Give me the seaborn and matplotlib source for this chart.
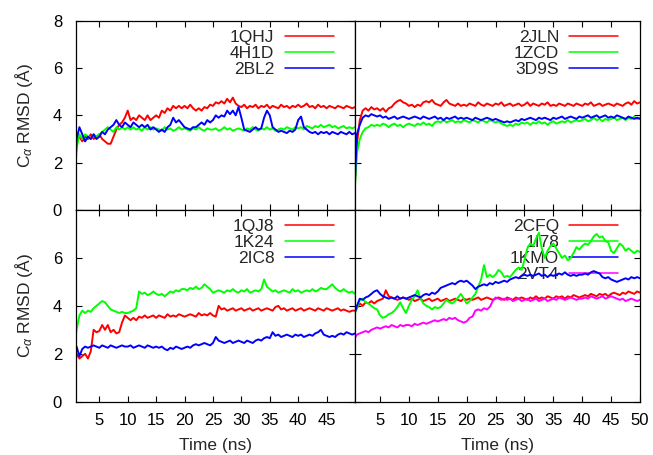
import numpy as np
import pandas as pd
import matplotlib
matplotlib.use("Agg")
import matplotlib.pyplot as plt
import seaborn as sns

# ---------------- data ----------------
time_ns = np.arange(0, 50.5, 0.5)

# top-left panel
s_1QHJ = [0.0, 0.0, 2.9, 3.1, 2.9, 3.1, 3.0, 3.2, 3.0, 3.1,
          3.2, 3.0, 2.9, 2.8, 2.8, 3.1, 3.4, 3.6, 3.7, 3.9,
          4.2, 3.8, 3.9, 3.8, 4.0, 3.9, 3.8, 4.0, 3.8, 3.9,
          4.0, 3.9, 4.2, 4.1, 4.3, 4.2, 4.4, 4.3, 4.4, 4.3,
          4.4, 4.3, 4.45, 4.3, 4.2, 4.3, 4.2, 4.35, 4.3, 4.45,
          4.4, 4.55, 4.5, 4.6, 4.5, 4.7, 4.55, 4.75, 4.5, 4.4,
          4.35, 4.45, 4.3, 4.4, 4.35, 4.45, 4.3, 4.4, 4.35, 4.45,
          4.3, 4.4, 4.35, 4.3, 4.45, 4.35, 4.4, 4.3, 4.4, 4.35,
          4.45, 4.35, 4.4, 4.5, 4.35, 4.4, 4.3, 4.45, 4.35, 4.4,
          4.3, 4.4, 4.35, 4.3, 4.4, 4.35, 4.3, 4.4, 4.35, 4.3,
          4.35]
s_4H1D = [0.0, 0.0, 2.6, 3.2, 3.0, 3.2, 3.1, 3.0, 3.2, 3.1,
          3.2, 3.3, 3.4, 3.5, 3.4, 3.3, 3.5, 3.4, 3.5, 3.4,
          3.5, 3.4, 3.5, 3.4, 3.45, 3.35, 3.5, 3.4, 3.5, 3.4,
          3.45, 3.4, 3.35, 3.5, 3.4, 3.45, 3.35, 3.4, 3.5, 3.4,
          3.45, 3.4, 3.35, 3.45, 3.4, 3.5, 3.4, 3.35, 3.45, 3.4,
          3.4, 3.45, 3.35, 3.4, 3.5, 3.4, 3.45, 3.35, 3.4, 3.45,
          3.4, 3.35, 3.45, 3.4, 3.5, 3.4, 3.35, 3.45, 3.4, 3.5,
          3.4, 3.45, 3.35, 3.4, 3.45, 3.4, 3.5, 3.45, 3.4, 3.5,
          3.45, 3.5, 3.4, 3.55, 3.5, 3.45, 3.55, 3.5, 3.6, 3.5,
          3.55, 3.6, 3.5, 3.55, 3.45, 3.5, 3.55, 3.45, 3.5, 3.45,
          3.5]
s_2BL2 = [0.0, 0.0, 3.0, 3.5, 3.2, 2.9, 3.1, 3.0, 3.2, 3.0,
          3.1, 3.3, 3.2, 3.4, 3.5, 3.6, 3.8, 3.6, 3.5, 3.7,
          3.6, 3.5, 3.7, 3.6, 3.5, 3.6, 3.5, 3.6, 3.4, 3.5,
          3.4, 3.3, 3.4, 3.3, 3.5, 3.6, 3.9, 3.7, 3.8, 3.65,
          3.5, 3.45, 3.4, 3.5, 3.5, 3.6, 3.7, 3.6, 3.8, 3.7,
          3.8, 4.0, 3.9, 4.0, 3.95, 4.2, 4.05, 4.2, 4.0, 4.35,
          3.9, 3.4, 3.35, 3.3, 3.4, 3.5, 3.4, 3.45, 3.9, 4.2,
          4.0, 3.5, 3.4, 3.3, 3.35, 3.3, 3.25, 3.35, 3.3, 3.4,
          3.8, 3.95, 3.5, 3.4, 3.3, 3.25, 3.3, 3.2, 3.3, 3.25,
          3.3, 3.2, 3.3, 3.25, 3.2, 3.3, 3.25, 3.2, 3.3, 3.2,
          3.25]

# top-right panel
s_2JLN = [0.0, 0.3, 2.8, 3.8, 4.2, 4.3, 4.2, 4.35, 4.25, 4.3,
          4.2, 4.3, 4.15, 4.3, 4.35, 4.5, 4.6, 4.65, 4.55, 4.5,
          4.4, 4.45, 4.35, 4.45, 4.4, 4.55, 4.6, 4.55, 4.65, 4.5,
          4.45, 4.4, 4.55, 4.65, 4.5, 4.45, 4.4, 4.5, 4.4, 4.45,
          4.4, 4.5, 4.45, 4.4, 4.55, 4.45, 4.4, 4.5, 4.45, 4.4,
          4.5, 4.45, 4.55, 4.4, 4.45, 4.5, 4.4, 4.45, 4.5, 4.4,
          4.45, 4.55, 4.4, 4.5, 4.45, 4.4, 4.5, 4.45, 4.55, 4.4,
          4.45, 4.4, 4.5, 4.45, 4.4, 4.5, 4.45, 4.4, 4.5, 4.45,
          4.4, 4.5, 4.45, 4.55, 4.4, 4.45, 4.5, 4.4, 4.45, 4.5,
          4.45, 4.4, 4.5, 4.45, 4.4, 4.5, 4.55, 4.45, 4.6, 4.5,
          4.55]
s_1ZCD = [0.0, 0.3, 2.4, 3.0, 3.3, 3.45, 3.5, 3.6, 3.55, 3.6,
          3.55, 3.65, 3.6, 3.5, 3.6, 3.65, 3.55, 3.6, 3.5, 3.6,
          3.65, 3.6, 3.55, 3.65, 3.6, 3.7, 3.6, 3.65, 3.55, 3.7,
          3.75, 3.7, 3.8, 3.7, 3.75, 3.8, 3.7, 3.75, 3.7, 3.8,
          3.75, 3.7, 3.8, 3.75, 3.7, 3.8, 3.75, 3.7, 3.8, 3.75,
          3.7, 3.75, 3.65, 3.6, 3.55, 3.6, 3.55, 3.65, 3.6, 3.7,
          3.65, 3.7, 3.6, 3.7, 3.65, 3.75, 3.65, 3.7, 3.6, 3.7,
          3.75, 3.65, 3.7, 3.75, 3.7, 3.8, 3.7, 3.75, 3.8, 3.75,
          3.8, 3.85, 3.75, 3.8, 3.9, 3.8, 3.85, 3.75, 3.85, 3.8,
          3.85, 3.9, 3.8, 3.85, 3.9, 3.8, 3.9, 3.85, 3.95, 3.85,
          3.9]
s_3D9S = [0.0, 0.3, 3.2, 3.6, 3.9, 4.0, 3.95, 4.05, 4.0, 3.95,
          4.0, 3.9, 3.95, 3.85, 3.9, 3.95, 3.85, 3.9, 3.95, 3.9,
          3.85, 3.9, 3.95, 3.9, 3.85, 3.95, 3.9, 3.85, 3.9, 3.95,
          3.85, 3.9, 3.8, 3.9, 3.85, 3.9, 3.95, 3.85, 3.9, 3.85,
          3.9, 3.85, 3.8, 3.9, 3.85, 3.8, 3.85, 3.9, 3.85, 3.8,
          3.85, 3.8, 3.75, 3.7, 3.75, 3.7, 3.75, 3.8, 3.75, 3.85,
          3.8, 3.85, 3.9, 3.85, 3.8, 3.9, 3.85, 3.9, 3.85, 3.8,
          3.9, 3.85, 3.9, 3.95, 3.85, 3.9, 3.95, 3.9, 3.85, 3.95,
          3.9, 3.95, 4.0, 3.9, 3.95, 4.0, 3.9, 3.95, 4.0, 3.9,
          3.95, 3.9, 4.0, 3.95, 3.9, 3.85, 3.95, 3.9, 3.85, 3.9,
          3.85]

# bottom-left panel
s_1QJ8 = [0.5, 1.0, 2.0, 1.8, 1.9, 2.0, 1.8, 2.1, 3.0, 2.9,
          2.95, 3.2, 3.0, 3.2, 2.9, 3.0, 2.85, 2.9, 3.3, 3.6,
          3.5, 3.4, 3.5, 3.4, 3.55, 3.5, 3.6, 3.5, 3.55, 3.6,
          3.5, 3.6, 3.55, 3.5, 3.65, 3.55, 3.6, 3.55, 3.65, 3.6,
          3.55, 3.6, 3.65, 3.6, 3.55, 3.7, 3.6, 3.65, 3.6, 3.7,
          3.6, 3.55, 4.0, 3.85, 3.9, 3.8, 3.85, 3.9, 3.8, 3.85,
          3.9, 3.8, 3.85, 3.9, 3.8, 3.85, 3.9, 3.8, 3.85, 3.9,
          3.85, 3.8, 3.95, 4.0, 3.85, 3.9, 3.8, 3.85, 3.9, 3.8,
          3.85, 3.9, 3.8, 3.85, 3.9, 3.85, 3.8, 3.9, 3.85, 3.8,
          3.9, 3.85, 3.8, 3.85, 3.9, 3.8, 3.85, 3.8, 3.75, 3.8,
          3.8]
s_1K24 = [1.0, 2.0, 3.0, 3.6, 3.8, 3.7, 3.8, 3.75, 3.9, 4.0,
          4.1, 4.2, 4.15, 4.0, 3.85, 3.8, 3.75, 3.7, 3.75, 3.7,
          3.7, 3.75, 3.8, 3.9, 4.6, 4.5, 4.55, 4.45, 4.5, 4.6,
          4.5, 4.45, 4.5, 4.4, 4.5, 4.6, 4.55, 4.65, 4.6, 4.7,
          4.7, 4.65, 4.75, 4.7, 4.8, 4.7, 4.75, 4.9, 4.8, 4.7,
          4.55, 4.6, 4.65, 4.6, 4.55, 4.65, 4.6, 4.7, 4.6, 4.55,
          4.65, 4.6, 4.7, 4.55, 4.6, 4.65, 4.6, 4.7, 5.1, 4.8,
          4.7, 4.6, 4.65, 4.55, 4.6, 4.65, 4.6, 4.55, 4.7, 4.6,
          4.65, 4.55, 4.6, 4.65, 4.6, 4.7, 4.6, 4.65, 4.75, 4.7,
          4.7, 4.8, 4.9, 4.75, 4.65, 4.6, 4.7, 4.6, 4.55, 4.6,
          4.5]
s_2IC8 = [0.5, 1.5, 2.3, 1.9, 2.2, 2.3, 2.25, 2.3, 2.35, 2.3,
          2.25, 2.35, 2.3, 2.25, 2.35, 2.3, 2.25, 2.3, 2.35, 2.3,
          2.3, 2.35, 2.25, 2.3, 2.35, 2.3, 2.25, 2.35, 2.3, 2.25,
          2.3, 2.25, 2.3, 2.2, 2.15, 2.25, 2.2, 2.3, 2.25, 2.2,
          2.25, 2.3, 2.25, 2.35, 2.4, 2.35, 2.4, 2.45, 2.4, 2.35,
          2.45, 2.7, 2.55, 2.5, 2.45, 2.5, 2.55, 2.45, 2.5, 2.55,
          2.5, 2.45, 2.55, 2.5, 2.45, 2.55, 2.6, 2.55, 2.65, 2.7,
          2.65, 2.9, 2.75, 2.8, 2.7, 2.75, 2.8, 2.75, 2.7, 2.8,
          2.75, 2.8, 2.7, 2.75, 2.8, 2.75, 2.85, 2.9, 3.0, 2.8,
          2.75, 2.7, 2.75, 2.7, 2.8, 2.85, 2.8, 2.9, 2.85, 2.8,
          2.85]

# bottom-right panel
s_2CFQ = [2.0, 3.7, 3.9, 4.1, 4.0, 4.15, 4.1, 4.2, 4.1, 4.2,
          4.25, 4.3, 4.65, 4.4, 4.35, 4.3, 4.25, 4.3, 4.35, 4.3,
          4.25, 4.3, 4.2, 4.25, 4.3, 4.2, 4.25, 4.3, 4.2, 4.25,
          4.3, 4.2, 4.25, 4.3, 4.2, 4.25, 4.3, 4.25, 4.2, 4.3,
          4.25, 4.3, 4.25, 4.3, 4.35, 4.25, 4.3, 4.35, 4.3, 4.25,
          4.3, 4.35, 4.3, 4.25, 4.35, 4.3, 4.25, 4.35, 4.3, 4.35,
          4.3, 4.25, 4.35, 4.3, 4.4, 4.3, 4.35, 4.3, 4.4, 4.35,
          4.3, 4.4, 4.35, 4.4, 4.3, 4.4, 4.35, 4.45, 4.4, 4.35,
          4.4, 4.45, 4.4, 4.5, 4.45, 4.4, 4.5, 4.45, 4.5, 4.4,
          4.5, 4.55, 4.5, 4.45, 4.55, 4.5, 4.6, 4.55, 4.5, 4.6,
          4.55]
s_1I78 = [2.5, 3.6, 3.9, 4.25, 4.3, 4.15, 4.1, 4.0, 3.9, 3.85,
          3.6, 3.5, 3.55, 3.65, 3.7, 3.8, 3.95, 4.15, 3.9, 3.7,
          4.0, 4.25, 4.4, 4.65, 4.3, 4.1, 4.0, 3.95, 3.85, 3.95,
          3.9, 3.95, 4.1, 4.25, 4.15, 4.1, 4.2, 4.35, 4.5, 4.3,
          4.1, 4.2, 4.35, 4.5, 4.8, 5.1, 5.7, 5.2, 5.3, 5.2,
          5.3, 5.5, 5.4, 5.2, 5.25, 5.2, 5.35, 5.5, 5.6, 5.5,
          5.9, 6.4, 6.6, 6.5, 6.8, 7.05, 6.4, 6.0, 6.3, 6.5,
          6.6, 6.4, 6.2, 6.0, 6.1, 5.9, 6.0, 6.2, 6.45, 6.35,
          6.5, 6.6, 6.55, 6.7, 6.9, 7.0, 6.85, 6.9, 6.7, 6.65,
          6.3, 6.2, 6.4, 6.6, 6.5, 6.3, 6.4, 6.3, 6.2, 6.3,
          6.25]
s_1KMO = [2.8, 3.6, 4.0, 4.3, 4.25, 4.35, 4.4, 4.5, 4.6, 4.65,
          4.5, 4.4, 4.35, 4.3, 4.35, 4.3, 4.4, 4.3, 4.35, 4.3,
          4.35, 4.4, 4.45, 4.4, 4.35, 4.45, 4.5, 4.45, 4.55, 4.5,
          4.6, 4.75, 4.8, 4.85, 4.9, 4.95, 4.9, 5.0, 5.05, 5.0,
          5.05, 4.95, 4.85, 4.7, 4.8, 4.85, 4.9, 4.85, 4.95, 4.9,
          5.0, 4.95, 5.0, 5.05, 5.0, 5.1, 5.15, 5.2, 5.15, 5.25,
          5.3, 5.25, 5.3, 5.25, 5.3, 5.35, 5.25, 5.3, 5.2, 5.3,
          5.25, 5.3, 5.35, 5.3, 5.4, 5.3, 5.25, 5.3, 5.25, 5.3,
          5.3, 5.35, 5.3, 5.4, 5.45, 5.4, 5.35, 5.2, 5.15, 5.2,
          5.1, 5.05, 5.0, 5.05, 5.1, 5.15, 5.1, 5.2, 5.15, 5.2,
          5.15]
s_2VT4 = [2.0, 2.6, 2.8, 2.85, 2.9, 2.95, 2.9, 3.0, 3.05, 3.1,
          3.05, 3.1, 3.15, 3.1, 3.2, 3.15, 3.1, 3.2, 3.15, 3.2,
          3.2, 3.15, 3.25, 3.2, 3.25, 3.3, 3.25, 3.3, 3.35, 3.4,
          3.35, 3.4, 3.45, 3.4, 3.5, 3.45, 3.5, 3.4, 3.35, 3.3,
          3.35, 3.5, 3.55, 3.8, 3.85, 3.8, 3.9, 3.85, 3.95, 4.2,
          4.35, 4.3, 4.25, 4.3, 4.25, 4.3, 4.2, 4.25, 4.3, 4.2,
          4.25, 4.3, 4.2, 4.25, 4.3, 4.2, 4.25, 4.3, 4.2, 4.25,
          4.3, 4.25, 4.35, 4.3, 4.25, 4.3, 4.35, 4.3, 4.25, 4.3,
          4.3, 4.35, 4.3, 4.4, 4.35, 4.3, 4.35, 4.4, 4.3, 4.35,
          4.4, 4.35, 4.3, 4.25, 4.3, 4.2, 4.25, 4.3, 4.25, 4.2,
          4.25]

panels = [
    (["1QHJ", "4H1D", "2BL2"], [s_1QHJ, s_4H1D, s_2BL2]),
    (["2JLN", "1ZCD", "3D9S"], [s_2JLN, s_1ZCD, s_3D9S]),
    (["1QJ8", "1K24", "2IC8"], [s_1QJ8, s_1K24, s_2IC8]),
    (["2CFQ", "1I78", "1KMO", "2VT4"], [s_2CFQ, s_1I78, s_1KMO, s_2VT4]),
]
colors = ["#ff0000", "#00ff00", "#0000ff", "#ff00ff"]

left_xticks = [5, 10, 15, 20, 25, 30, 35, 40, 45]
right_xticks = [5, 10, 15, 20, 25, 30, 35, 40, 45, 50]

# ---------------- style ----------------
sns.set_style("ticks")
plt.rcParams["font.family"] = ["Liberation Sans", "DejaVu Sans"]
plt.rcParams["mathtext.fontset"] = "custom"
plt.rcParams["mathtext.rm"] = "Liberation Sans"
plt.rcParams["mathtext.it"] = "Liberation Sans:italic"
plt.rcParams["mathtext.bf"] = "Liberation Sans:bold"

W, H = 653, 455
fig = plt.figure(figsize=(W / 100, H / 100), dpi=100)

def px_axes(x0, x1, y0, y1):
    return fig.add_axes([x0 / W, 1 - y1 / H, (x1 - x0) / W, (y1 - y0) / H])

axes = [
    px_axes(76, 355, 20.7, 210),
    px_axes(355, 640, 20.7, 210),
    px_axes(76, 355, 210, 401.7),
    px_axes(355, 640, 210, 401.7),
]

for i, (ax, (names, series)) in enumerate(zip(axes, panels)):
    df = pd.concat(
        [pd.DataFrame({"t": time_ns, "rmsd": vals, "protein": name})
         for name, vals in zip(names, series)],
        ignore_index=True,
    )
    pal = {n: c for n, c in zip(names, colors)}
    sns.lineplot(data=df, x="t", y="rmsd", hue="protein", hue_order=names,
                 palette=pal, estimator=None, sort=False, linewidth=1.4,
                 legend=False, ax=ax)
    is_left = i in (0, 2)
    is_bottom = i in (2, 3)
    ax.set_xlim(0.9 if is_left else 0.67, 50)
    ax.set_ylim(0, 8)
    ax.set_xticks(left_xticks if is_left else right_xticks)
    if i == 0:
        ax.set_yticks([0, 2, 4, 6, 8])
    else:
        ax.set_yticks([0, 2, 4, 6])
    ax.tick_params(direction="in", top=True, right=True, length=4, width=0.8,
                   labelsize=12, colors="black")
    ax.tick_params(axis="x", pad=8)
    ax.tick_params(axis="y", pad=10)
    ax.tick_params(labelbottom=is_bottom, labelleft=is_left)
    for sp in ax.spines.values():
        sp.set_visible(True)
        sp.set_linewidth(0.9)
        sp.set_color("black")
    if is_bottom:
        ax.set_xlabel("Time (ns)", fontsize=12.5, labelpad=7)
    else:
        ax.set_xlabel("")
    if is_left:
        ax.set_ylabel("C$_{\\alpha}$ RMSD (Å)", fontsize=12.5, va="center")
        ax.yaxis.set_label_coords(-0.185, 0.5)
    else:
        ax.set_ylabel("")
    handles = ax.get_lines()[:len(names)]
    leg = ax.legend(handles, names, loc="upper right", frameon=False,
                    markerfirst=False, handlelength=2.8, handletextpad=0.6,
                    labelspacing=0.05, borderpad=0.0, borderaxespad=0.0,
                    bbox_to_anchor=(0.923, 0.953), fontsize=12.5)
    for lh in leg.get_lines():
        lh.set_linewidth(1.1)
    leg.set_zorder(1)

fig.savefig("out.png", dpi=100)
